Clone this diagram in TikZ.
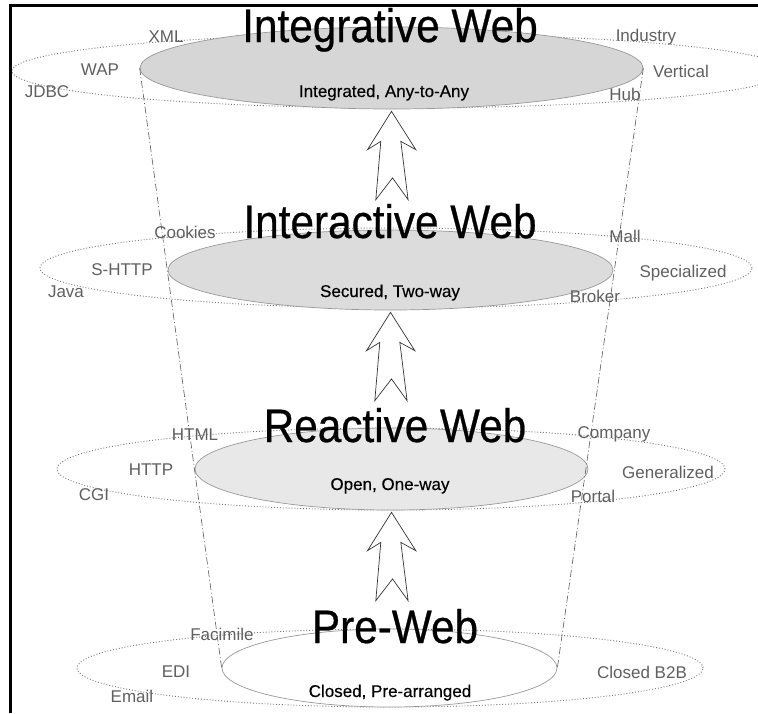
\documentclass[tikz,border=0pt]{standalone}
\usepackage{fontspec}
\setmainfont{Liberation Sans}
\newfontfamily\heavyfont[FakeBold=0.6]{Liberation Sans}
\newfontfamily\semiheavyfont[FakeBold=0.35]{Liberation Sans}
\usetikzlibrary{shapes.geometric,calc}
\definecolor{labgray}{HTML}{606060}
\definecolor{fillA}{HTML}{D6D6D6}
\definecolor{fillB}{HTML}{DCDCDC}
\definecolor{fillC}{HTML}{E8E8E8}
\begin{document}
\begin{tikzpicture}[x=1pt,y=-1pt,
  outerell/.style={ellipse, draw=black!55, dotted, line width=0.9pt, inner sep=0pt},
  innerell/.style={ellipse, draw=black!40, line width=0.7pt, inner sep=0pt},
  funnel/.style={draw=black!65, line width=0.6pt, dash pattern=on 7pt off 2.5pt on 1pt off 2.5pt},
  titletext/.style={font=\heavyfont\fontsize{47}{47}\selectfont, inner sep=0pt, anchor=base},
  subtext/.style={font=\semiheavyfont\fontsize{17}{17}\selectfont, inner sep=0pt, anchor=base},
  labtext/.style={font=\fontsize{17}{17}\selectfont, text=labgray, inner sep=0pt, anchor=base},
  blockarrow/.style={draw=black!80, fill=white, line width=0.7pt, line join=miter},
  uparrow/.pic={\draw[blockarrow] (0,0) -- (-24,38.3) -- (-10.7,30) -- (-15.7,88.3) -- (1,66.6) -- (16.6,88.3) -- (9.3,30) -- (24.3,38.3) -- cycle;}
]
\useasboundingbox (0,0) rectangle (758,713);
\fill[white] (0,0) rectangle (758,713);

% outer ellipses
\node[outerell, minimum width=776pt, minimum height=74pt] (outer1) at (400,71) {};
\node[outerell, minimum width=712pt, minimum height=80pt] (outer2) at (396,268) {};
\node[outerell, minimum width=668pt, minimum height=82pt] (outer3) at (391,469) {};
\node[outerell, minimum width=626pt, minimum height=78pt] (outer4) at (390,668) {};

% inner ellipses
\node[innerell, fill=fillA, minimum width=503pt, minimum height=82pt] (inner1) at (391.5,68) {};
\node[innerell, fill=fillB, minimum width=445pt, minimum height=80pt] (inner2) at (390.5,270) {};
\node[innerell, fill=fillC, minimum width=393pt, minimum height=82pt] (inner3) at (391.5,469) {};
\node[innerell, fill=white, minimum width=335pt, minimum height=78pt] (inner4) at (389.5,668) {};

% funnel lines
\draw[funnel] (inner1.west) -- (inner4.west);
\draw[funnel] (inner1.east) -- (inner4.east);

% titles
\node[titletext] (t1) at (390,42) {\scalebox{0.9}[1]{Integrative Web}};
\node[titletext] (t2) at (390,238) {\scalebox{0.9}[1]{Interactive Web}};
\node[titletext] (t3) at (395,442) {\scalebox{0.9}[1]{Reactive Web}};
\node[titletext] (t4) at (395,643) {\scalebox{0.9}[1]{Pre-Web}};

% sub texts
\node[subtext] (s1) at (384,97) {Integrated, Any-to-Any};
\node[subtext] (s2) at (390,297) {Secured, Two-way};
\node[subtext] (s3) at (390,490) {Open, One-way};
\node[subtext] (s4) at (390,697) {Closed, Pre-arranged};

% labels level 1
\node[labtext] (l1a) at (166,42) {XML};
\node[labtext] (l1b) at (100,75) {WAP};
\node[labtext] (l1c) at (47,97) {JDBC};
\node[labtext] (l1d) at (646,41) {Industry};
\node[labtext] (l1e) at (681,77) {Vertical};
\node[labtext] (l1f) at (625,100) {Hub};
% labels level 2
\node[labtext] (l2a) at (185,238) {Cookies};
\node[labtext] (l2b) at (122,275) {S-HTTP};
\node[labtext] (l2c) at (66,297) {Java};
\node[labtext] (l2d) at (625,242) {Mall};
\node[labtext] (l2e) at (683,277) {Specialized};
\node[labtext] (l2f) at (595,302) {Broker};
% labels level 3
\node[labtext] (l3a) at (195,440) {HTML};
\node[labtext] (l3b) at (151,475) {HTTP};
\node[labtext] (l3c) at (94,500) {CGI};
\node[labtext] (l3d) at (614,438) {Company};
\node[labtext] (l3e) at (668,478) {Generalized};
\node[labtext] (l3f) at (593,502) {Portal};
% labels level 4
\node[labtext] (l4a) at (222,640) {Facimile};
\node[labtext] (l4b) at (176,677) {EDI};
\node[labtext] (l4c) at (132,702) {Email};
\node[labtext] (l4d) at (642,678) {Closed B2B};

% arrows
\pic at ([yshift=-2pt]inner1.south) {uparrow};
\pic at ([yshift=-2pt]inner2.south) {uparrow};
\pic at ([yshift=-2pt]inner3.south) {uparrow};

% frame
\draw[line width=3pt] (10,713) -- (10,5) -- (758,5);
\end{tikzpicture}
\end{document}
